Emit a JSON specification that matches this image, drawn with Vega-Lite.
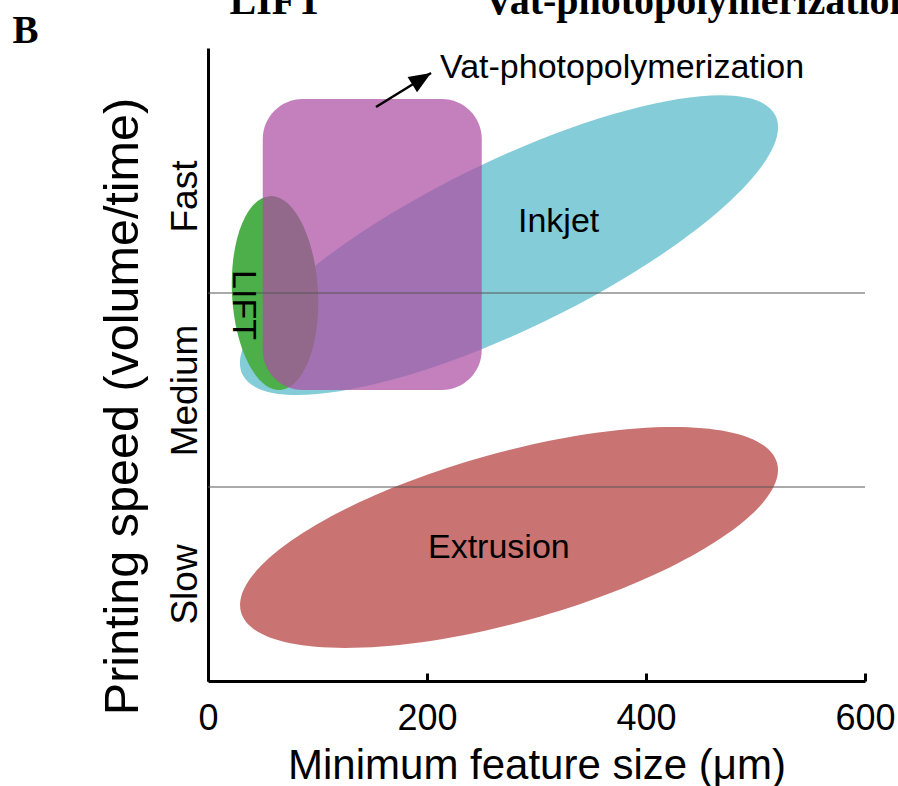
{
  "$schema": "https://vega.github.io/schema/vega-lite/v6.json",
  "width": 657,
  "height": 633,
  "autosize": {"type": "none"},
  "padding": {"left": 208, "top": 48, "right": 33, "bottom": 105},
  "background": "white",
  "config": {"view": {"stroke": null}, "font": "Liberation Sans"},
  "datasets": {
    "regions": [
      {"method": "Inkjet", "feature_size": 274.9, "speed": 2.247},
      {"method": "LIFT", "feature_size": 61.2, "speed": 2.0},
      {"method": "Extrusion", "feature_size": 274.9, "speed": 0.74}
    ],
    "vat": [{"method": "Vat-photopolymerization", "size_min": 50, "size_max": 250, "speed_min": 1.5, "speed_max": 3.0}],
    "bands": [{"boundary": 1}, {"boundary": 2}],
    "labels": [
      {"text": "Inkjet", "feature_size": 283.1, "speed": 2.314},
      {"text": "Extrusion", "feature_size": 200.9, "speed": 0.634},
      {"text": "Vat-photopolymerization", "feature_size": 211.9, "speed": 3.108}
    ],
    "lift_label": [{"text": "LIFT", "feature_size": 22.8, "speed": 1.938}],
    "arrow": [{"feature_size": 153.4, "speed": 2.959, "feature_size_end": 203.7, "speed_end": 3.134}]
  },
  "layer": [
    {
      "data": {"name": "regions"},
      "transform": [{"filter": "datum.method === 'Inkjet'"}],
      "mark": {"type": "point", "shape": "M -296.3 0 A 296.3 84.1 0 1 0 296.3 0 A 296.3 84.1 0 1 0 -296.3 0 Z", "size": 4, "angle": -25.9, "filled": true, "fill": "#84cdd8", "opacity": 1, "strokeWidth": 0},
      "encoding": {
        "x": {
          "field": "feature_size", "type": "quantitative", "scale": {"domain": [0, 600], "nice": false},
          "axis": {"values": [0, 200, 400, 600], "title": "Minimum feature size (μm)", "titleFontSize": 42, "titleFontWeight": "normal", "titleColor": "black", "titleBaseline": "alphabetic", "titleAlign": "center", "titleX": 328.5, "titleY": 97, "labelFontSize": 36, "labelColor": "black", "labelFlush": false, "labelOverlap": false, "labelPadding": 28, "tickSize": -8, "tickWidth": 3, "tickColor": "black", "domainColor": "black", "domainWidth": 3, "grid": false}
        },
        "y": {
          "field": "speed", "type": "quantitative", "scale": {"domain": [0, 3.263], "nice": false},
          "axis": {"orient": "left", "values": [0.5, 1.5, 2.5], "labelExpr": "datum.value < 1 ? 'Slow' : datum.value < 2 ? 'Medium' : 'Fast'", "labelAngle": -90, "labelAlign": "center", "labelBaseline": "alphabetic", "labelPadding": 12, "labelFontSize": 37, "labelColor": "black", "labelOverlap": false, "ticks": false, "domainColor": "black", "domainWidth": 3, "grid": false, "title": "Printing speed (volume/time)", "titleFontSize": 48.5, "titleFontWeight": "normal", "titleColor": "black", "titleAngle": -90, "titleAlign": "center", "titleBaseline": "alphabetic", "titleX": -71, "titleY": 358}
        }
      }
    },
    {
      "data": {"name": "regions"},
      "transform": [{"filter": "datum.method === 'LIFT'"}],
      "mark": {"type": "point", "shape": "M -43 0 A 43 97 0 1 0 43 0 A 43 97 0 1 0 -43 0 Z", "size": 4, "angle": -3, "filled": true, "fill": "#4caf4a", "opacity": 1, "strokeWidth": 0},
      "encoding": {
        "x": {"field": "feature_size", "type": "quantitative", "scale": {"domain": [0, 600], "nice": false}, "axis": null},
        "y": {"field": "speed", "type": "quantitative", "scale": {"domain": [0, 3.263], "nice": false}, "axis": null}
      }
    },
    {
      "data": {"name": "vat"},
      "mark": {"type": "rect", "cornerRadius": 40, "fill": "#ad4ea3", "opacity": 0.72},
      "encoding": {
        "x": {"field": "size_min", "type": "quantitative", "scale": {"domain": [0, 600], "nice": false}, "axis": null},
        "x2": {"field": "size_max"},
        "y": {"field": "speed_min", "type": "quantitative", "scale": {"domain": [0, 3.263], "nice": false}, "axis": null},
        "y2": {"field": "speed_max"}
      }
    },
    {
      "data": {"name": "regions"},
      "transform": [{"filter": "datum.method === 'Extrusion'"}],
      "mark": {"type": "point", "shape": "M -278.2 0 A 278.2 84.6 0 1 0 278.2 0 A 278.2 84.6 0 1 0 -278.2 0 Z", "size": 4, "angle": -15.55, "filled": true, "fill": "#c97472", "opacity": 1, "strokeWidth": 0},
      "encoding": {
        "x": {"field": "feature_size", "type": "quantitative", "scale": {"domain": [0, 600], "nice": false}, "axis": null},
        "y": {"field": "speed", "type": "quantitative", "scale": {"domain": [0, 3.263], "nice": false}, "axis": null}
      }
    },
    {
      "data": {"name": "bands"},
      "mark": {"type": "rule", "color": "#555555", "opacity": 0.5, "strokeWidth": 2},
      "encoding": {
        "y": {"field": "boundary", "type": "quantitative", "scale": {"domain": [0, 3.263], "nice": false}, "axis": null}
      }
    },
    {
      "data": {"name": "labels"},
      "mark": {"type": "text", "align": "left", "baseline": "alphabetic", "fontSize": 34, "color": "black"},
      "encoding": {
        "x": {"field": "feature_size", "type": "quantitative", "scale": {"domain": [0, 600], "nice": false}, "axis": null},
        "y": {"field": "speed", "type": "quantitative", "scale": {"domain": [0, 3.263], "nice": false}, "axis": null},
        "text": {"field": "text"}
      }
    },
    {
      "data": {"name": "lift_label"},
      "mark": {"type": "text", "align": "center", "baseline": "alphabetic", "angle": 90, "fontSize": 34, "color": "black"},
      "encoding": {
        "x": {"field": "feature_size", "type": "quantitative", "scale": {"domain": [0, 600], "nice": false}, "axis": null},
        "y": {"field": "speed", "type": "quantitative", "scale": {"domain": [0, 3.263], "nice": false}, "axis": null},
        "text": {"field": "text"}
      }
    },
    {
      "data": {"name": "arrow"},
      "mark": {"type": "point", "shape": "M 0 0 L -22 -9 L -22 9 Z", "size": 4, "angle": -31.7, "filled": true, "fill": "black", "opacity": 1, "strokeWidth": 0},
      "encoding": {
        "x": {"field": "feature_size_end", "type": "quantitative", "scale": {"domain": [0, 600], "nice": false}, "axis": null},
        "y": {"field": "speed_end", "type": "quantitative", "scale": {"domain": [0, 3.263], "nice": false}, "axis": null}
      }
    },
    {
      "data": {"name": "arrow"},
      "mark": {"type": "rule", "strokeWidth": 2.5, "color": "black"},
      "encoding": {
        "x": {
          "field": "feature_size", "type": "quantitative", "scale": {"domain": [0, 600], "nice": false},
          "axis": {"orient": "top", "values": [19.2, 252], "labelExpr": "datum.value < 100 ? 'LIFT' : 'Vat-photopolymerization'", "labelAlign": "left", "labelBaseline": "alphabetic", "labelPadding": 35, "labelFont": "Liberation Serif", "labelFontSize": 40, "labelFontWeight": "bold", "labelColor": "black", "labelFlush": false, "labelOverlap": false, "labelLimit": 0, "domain": false, "ticks": false, "grid": false, "title": "B", "titleFont": "Liberation Serif", "titleFontSize": 39, "titleFontWeight": "bold", "titleColor": "black", "titleAngle": 0, "titleAlign": "left", "titleBaseline": "alphabetic", "titleX": -196, "titleY": -6}
        },
        "x2": {"field": "feature_size_end"},
        "y": {"field": "speed", "type": "quantitative", "scale": {"domain": [0, 3.263], "nice": false}, "axis": null},
        "y2": {"field": "speed_end"}
      }
    }
  ],
  "resolve": {"axis": {"x": "independent", "y": "independent"}}
}
